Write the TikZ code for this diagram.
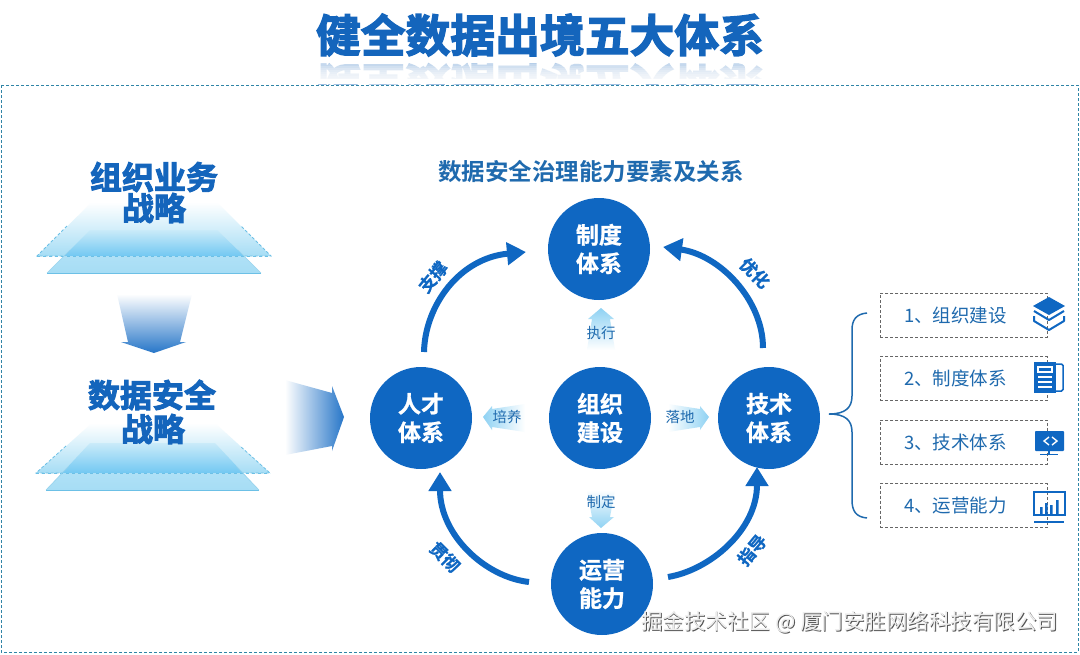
\documentclass[tikz,border=0pt]{standalone}
\usepackage{fontspec}
\setmainfont{Noto Sans CJK SC}
\newfontfamily\heavy[FakeBold=3]{Noto Sans CJK SC Bold}
\newfontfamily\hubfont[FakeBold=1]{Noto Sans CJK SC Bold}
\newfontfamily\semibold{Noto Sans CJK SC Bold}
\usetikzlibrary{arrows.meta,calc}
\definecolor{mainblue}{HTML}{0F67C2}
\definecolor{titleblue}{HTML}{1465BC}
\definecolor{labelblue}{HTML}{1F6AAE}
\definecolor{paleblue}{HTML}{8FD2F3}
\definecolor{bandblue}{HTML}{A6DDF5}
\definecolor{overblue}{HTML}{72C8F2}
\definecolor{framecol}{HTML}{2F84A6}
\definecolor{edgecyan}{HTML}{6CC0E6}
\newcommand{\shadowtxt}[1]{\rlap{\raisebox{-0.9pt}{\hspace{0.9pt}\textcolor[HTML]{555555}{#1}}}\textcolor[HTML]{EDEDED}{#1}}
\tikzset{
  hub/.style={circle,fill=mainblue,minimum size=102pt,inner sep=0pt,text=white,align=center,font=\hubfont\fontsize{23}{28.5}\selectfont},
  bigarc/.style={draw=mainblue,line width=6pt,-{Triangle[length=19pt,width=22pt]}},
  archead/.style={text=mainblue,font=\hubfont\fontsize{17}{17}\selectfont,inner sep=0pt},
  smalllab/.style={text=labelblue,font=\fontsize{14.5}{15}\selectfont,inner sep=0pt},
  listbox/.style={draw=black!60,densely dashed,line width=0.8pt,minimum width=167pt,minimum height=44pt,inner sep=0pt,anchor=west},
  listtxt/.style={text=labelblue,font=\fontsize{18.5}{20}\selectfont,inner sep=0pt,anchor=west},
  strat/.style={text=titleblue,font=\heavy\fontsize{32}{32}\selectfont,inner sep=0pt},
  bluearrow/.style={shading=axis,draw=none},
}
\begin{document}
\begin{tikzpicture}[x=1pt,y=-1pt]
\useasboundingbox (0,0) rectangle (1080,654);
\fill[white] (0,0) rectangle (1080,654);
% title + reflection
\begin{scope}
\clip (200,60) rectangle (880,84);
\node[yscale=-1,text=titleblue!40,font=\heavy\fontsize{44.8}{45}\selectfont,inner sep=0pt] (titlemirror) at (540,85) {健全数据出境五大体系};
\foreach \yy in {62,64,...,78}{\fill[white,fill opacity=0.22] (200,\yy) rectangle (880,84);}
\fill[white] (200,79) rectangle (880,84);
\end{scope}
% frame
\draw[framecol,densely dashed,line width=0.8pt] (1,85) rectangle (1078,652);
\node[text=titleblue,font=\heavy\fontsize{44.8}{45}\selectfont,inner sep=0pt] (title) at (540,35) {健全数据出境五大体系};
% left trapezoids 1
\path[bluearrow,top color=white,bottom color=bandblue] (37,256) -- (92,202) -- (217,202) -- (271,256) -- cycle;
\draw[edgecyan,densely dashed,line width=0.8pt] (67,226) -- (37,256) -- (271,256) -- (241,226);
\path[bluearrow,top color=bandblue!60,bottom color=overblue] (64,256) -- (90,230) -- (217,230) -- (244,256) -- cycle;
\path[bluearrow,top color=bandblue!90,bottom color=bandblue] (47,273) -- (64,256) -- (244,256) -- (261,273) -- cycle;
\draw[edgecyan,dashed,line width=0.7pt] (37,256) -- (271,256);
\draw[edgecyan,line width=1pt] (47,273) -- (261,273);
\draw[edgecyan!70,line width=0.6pt] (47,273) -- (70,250) (261,273) -- (238,250);
\node[strat] (org1) at (154,177) {组织业务};
\node[strat] (org2) at (154,208) {战略};
% down arrow
\path[bluearrow,top color=white,bottom color=mainblue!90] (117,294) -- (192,294) -- (180,342) -- (186,342) -- (154,353) -- (121,342) -- (128,342) -- cycle;
% left trapezoids 2
\path[bluearrow,top color=white,bottom color=bandblue] (36,473) -- (92,423) -- (215,423) -- (270,473) -- cycle;
\draw[edgecyan,densely dashed,line width=0.8pt] (66,446) -- (36,473) -- (270,473) -- (240,446);
\path[bluearrow,top color=bandblue!60,bottom color=overblue] (62,473) -- (90,443) -- (215,443) -- (243,473) -- cycle;
\path[bluearrow,top color=bandblue!90,bottom color=bandblue] (46,490) -- (62,473) -- (243,473) -- (259,490) -- cycle;
\draw[edgecyan,dashed,line width=0.7pt] (36,473) -- (270,473);
\draw[edgecyan,line width=1pt] (46,490) -- (259,490);
\draw[edgecyan!70,line width=0.6pt] (46,490) -- (69,466) (259,490) -- (236,466);
\node[strat] (sec1) at (152,395) {数据安全};
\node[strat] (sec2) at (153,429) {战略};
% right arrow
\path[bluearrow,left color=white,right color=mainblue!90] (285,380) -- (332,393) -- (332,386) -- (344,417) -- (332,451) -- (332,446) -- (285,455) -- cycle;
% heading
\node[text=labelblue,font=\semibold\fontsize{23.5}{24}\selectfont,inner sep=0pt] (head) at (591,172) {数据安全治理能力要素及关系};
% hubs
\node[hub] (policy) at (599,249) {制度\\体系};
\node[hub] (people) at (421,418) {人才\\体系};
\node[hub] (org) at (600,418) {组织\\建设};
\node[hub] (tech) at (769,418) {技术\\体系};
\node[hub] (ops) at (602,584) {运营\\能力};
% big arcs
\coordinate (tlS) at (424,352); \coordinate (tlE) at (526,252);
\coordinate (trS) at (763,348); \coordinate (trE) at (663,247);
\coordinate (brS) at (668,577); \coordinate (brE) at (757,467);
\coordinate (blS) at (529,582); \coordinate (blE) at (440,472);
\draw[bigarc] (tlS) .. controls (425,305) and (460,258) .. (tlE);
\draw[bigarc] (trS) .. controls (763,300) and (720,255) .. (trE);
\draw[bigarc] (brS) .. controls (710,570) and (757,530) .. (brE);
\draw[bigarc] (blS) .. controls (485,577) and (440,535) .. (blE);
\node[archead,rotate=50] (lzc) at (433,277) {支撑};
\node[archead,rotate=-45] (lyh) at (755,273) {优化};
\node[archead,rotate=-45] (lgc) at (445,557) {贯彻};
\node[archead,rotate=50] (lzd) at (752,550) {指导};
% small arrows
\path[bluearrow,top color=paleblue,bottom color=white] (601,308) -- (614,319) -- (610,319) -- (615,350) -- (587,350) -- (592,319) -- (588,319) -- cycle;
\path[bluearrow,bottom color=paleblue,top color=white] (601,528) -- (614,517) -- (610,517) -- (615,490) -- (587,490) -- (592,517) -- (589,517) -- cycle;
\path[bluearrow,left color=paleblue,right color=white] (483,417) -- (492,406) -- (492,409) -- (525,404) -- (525,432) -- (492,427) -- (492,430) -- cycle;
\path[bluearrow,right color=paleblue,left color=white] (709,417) -- (700,406) -- (700,409) -- (668,404) -- (668,432) -- (700,427) -- (700,430) -- cycle;
\node[smalllab] (lexec) at (601,333) {执行};
\node[smalllab] (ltrain) at (507,417) {培养};
\node[smalllab] (lland) at (680,417) {落地};
\node[smalllab] (lset) at (601,502) {制定};
% brace
\coordinate (brT) at (867,313); \coordinate (brB) at (867,518); \coordinate (brM) at (829,414);
\draw[labelblue,line width=1.5pt] (brT) .. controls (856,314) and (852,320) .. (852,330) -- (852,396) .. controls (852,408) and (845,414) .. (brM) .. controls (845,414) and (852,420) .. (852,432) -- (852,500) .. controls (852,511) and (856,517) .. (brB);
% list
\foreach \nm/\yy/\tt in {a/315/1、组织建设,b/378.5/2、制度体系,c/442/3、技术体系,d/505.5/4、运营能力}{
  \node[listbox] (box\nm) at (880,\yy) {};
  \node[listtxt] (txt\nm) at (904,\yy) {\tt};
}
% icon 1 layers
\fill[mainblue] (1049,297) -- (1065,306) -- (1049,315) -- (1033,306) -- cycle;
\draw[mainblue,line width=2pt,line join=round] (1034,311) -- (1049,320) -- (1064,311);
\draw[mainblue,line width=2pt,line join=round] (1034,316) -- (1034,321) -- (1049,330) -- (1064,321) -- (1064,316);
% icon 2 document
\fill[mainblue] (1034,362) -- (1056,362) -- (1056,393) -- (1034,393) -- cycle;
\draw[mainblue,line width=1.5pt,rounded corners=1.5pt] (1056,364) -- (1063,364) -- (1063,391) -- (1056,391);
\draw[white,line width=1.3pt] (1038,367) rectangle (1052,372) (1038,377) -- (1052,377) (1038,382) -- (1052,382) (1038,387) -- (1052,387);
% icon 3 monitor
\fill[mainblue,rounded corners=0.8pt] (1035,431) rectangle (1064,451);
\draw[white,line width=1.4pt] (1049,437) -- (1044,441) -- (1049,445) (1052,437) -- (1057,441) -- (1052,445);
\draw[mainblue,line width=1.6pt] (1049,451) -- (1049,454) (1040,454.5) -- (1058,454.5);
% icon 4 chart
\draw[mainblue,line width=2pt] (1033.5,491.5) rectangle (1064.5,515);
\fill[mainblue] (1040,507) rectangle (1042.5,514) (1045,503) rectangle (1047.5,514) (1050,505) rectangle (1052.5,514) (1056,500) rectangle (1058.5,514);
\fill[mainblue] (1034,520.5) rectangle (1064,523);
% watermark
\node[font=\fontsize{21.5}{22}\selectfont,inner sep=0pt] (mark) at (850,623) {\shadowtxt{掘金技术社区 @ 厦门安胜网络科技有限公司}};
\end{tikzpicture}
\end{document}
